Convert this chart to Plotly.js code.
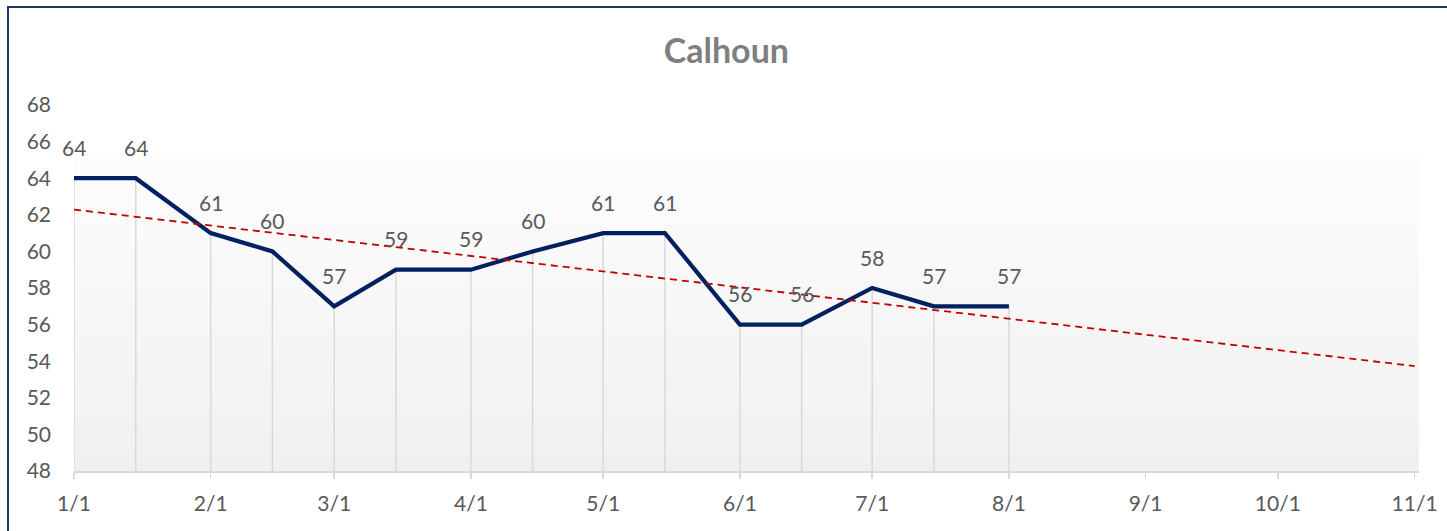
<!DOCTYPE html>
<html>
<head>
<meta charset="utf-8">
<script src="https://cdn.plot.ly/plotly-3.0.1.min.js"></script>
<style>
  html, body { margin: 0; padding: 0; background: #ffffff; overflow: hidden; }
  #chart { width: 1447px; height: 531px; position: relative; }
  #frame { position: absolute; left: 7px; top: 6px; width: 1500px; height: 600px;
           border-top: 2px solid #1f3864; border-left: 2px solid #1f3864; pointer-events: none; z-index: 5; }
</style>
</head>
<body>
<div id="chart"></div>
<div id="frame"></div>
<script>
// ---- Data ----
const chartTitle = 'Calhoun';
const dates = ['2019-01-01','2019-01-15','2019-02-01','2019-02-15','2019-03-01','2019-03-15',
               '2019-04-01','2019-04-15','2019-05-01','2019-05-15','2019-06-01','2019-06-15',
               '2019-07-01','2019-07-15','2019-08-01'];
const values = [64,64,61,60,57,59,59,60,61,61,56,56,58,57,57];
const tickDates = ['2019-01-01','2019-02-01','2019-03-01','2019-04-01','2019-05-01','2019-06-01',
                   '2019-07-01','2019-08-01','2019-09-01','2019-10-01','2019-11-01'];
const tickLabels = ['1/1','2/1','3/1','4/1','5/1','6/1','7/1','8/1','9/1','10/1','11/1'];
const yMin = 48, yMax = 68;
const trendEnd = '2019-11-01';

// ---- Linear trendline (least squares, like Excel) ----
const dayMs = 86400000;
const t0 = Date.parse(dates[0]);
const xs = dates.map(d => (Date.parse(d) - t0) / dayMs);
const n = xs.length;
const mx = xs.reduce((a,b)=>a+b,0)/n;
const my = values.reduce((a,b)=>a+b,0)/n;
let sxy = 0, sxx = 0;
for (let i = 0; i < n; i++) { sxy += (xs[i]-mx)*(values[i]-my); sxx += (xs[i]-mx)*(xs[i]-mx); }
const slope = sxy / sxx, intercept = my - slope*mx;
const trendX = [dates[0], trendEnd];
const trendY = trendX.map(d => intercept + slope * (Date.parse(d) - t0) / dayMs);

// ---- Drop lines ----
const dropX = [], dropY = [];
dates.forEach((d, i) => { dropX.push(d, d, null); dropY.push(yMin, values[i], null); });

const font = 'Lato, "Open Sans", "Liberation Sans", sans-serif';

const traces = [
  { x: dropX, y: dropY, type: 'scatter', mode: 'lines',
    line: { color: '#d9d9d9', width: 1.5 }, hoverinfo: 'skip', showlegend: false },
  { x: dates, y: values, type: 'scatter', mode: 'lines',
    line: { color: '#002060', width: 4.2 }, showlegend: false },
  { x: trendX, y: trendY, type: 'scatter', mode: 'lines',
    line: { color: '#c00000', width: 1.8, dash: '7px,5px' }, showlegend: false }
];

const annotations = dates.map((d, i) => ({
  x: d, y: values[i], xref: 'x', yref: 'y', text: String(values[i]),
  showarrow: false, yshift: 31, font: { family: font, size: 21, color: '#595959' }
}));

const gradSvg = '<svg xmlns="http://www.w3.org/2000/svg" width="10" height="100" preserveAspectRatio="none">' +
  '<defs><linearGradient id="g" x1="0" y1="0" x2="0" y2="1">' +
  '<stop offset="0" stop-color="#fdfdfd"/><stop offset="1" stop-color="#f0f0f0"/></linearGradient></defs>' +
  '<rect width="10" height="100" fill="url(#g)"/></svg>';

const layout = {
  width: 1447, height: 531,
  margin: { l: 74, r: 28, t: 105, b: 60 },
  paper_bgcolor: '#ffffff', plot_bgcolor: 'rgba(0,0,0,0)',
  title: { text: '<b>' + chartTitle + '</b>', x: 0.502, xref: 'container', y: 0.904, yref: 'container',
           yanchor: 'middle', font: { family: font, size: 34, color: '#7f7f7f' } },
  xaxis: {
    type: 'date', range: ['2019-01-01', '2019-11-02'],
    tickvals: tickDates, ticktext: tickLabels,
    showgrid: false, zeroline: false,
    showline: true, linecolor: '#d9d9d9', linewidth: 1.5,
    ticks: 'outside', ticklen: 6, tickcolor: '#d9d9d9', tickwidth: 1.5,
    ticklabelstandoff: 7,
    tickfont: { family: font, size: 21, color: '#595959' }
  },
  yaxis: {
    range: [yMin, yMax], dtick: 2, tick0: 48,
    showgrid: false, zeroline: false, showline: false, ticks: '',
    ticklabelstandoff: 22,
    tickfont: { family: font, size: 21, color: '#595959' }
  },
  images: [{
    source: 'data:image/svg+xml;base64,' + btoa(gradSvg),
    xref: 'paper', yref: 'paper', x: 0, y: 0.863, sizex: 1, sizey: 0.863,
    xanchor: 'left', yanchor: 'top', sizing: 'stretch', layer: 'below'
  }],
  annotations: annotations,
  showlegend: false
};

Plotly.newPlot('chart', traces, layout, { displayModeBar: false, staticPlot: true });
</script>
</body>
</html>
